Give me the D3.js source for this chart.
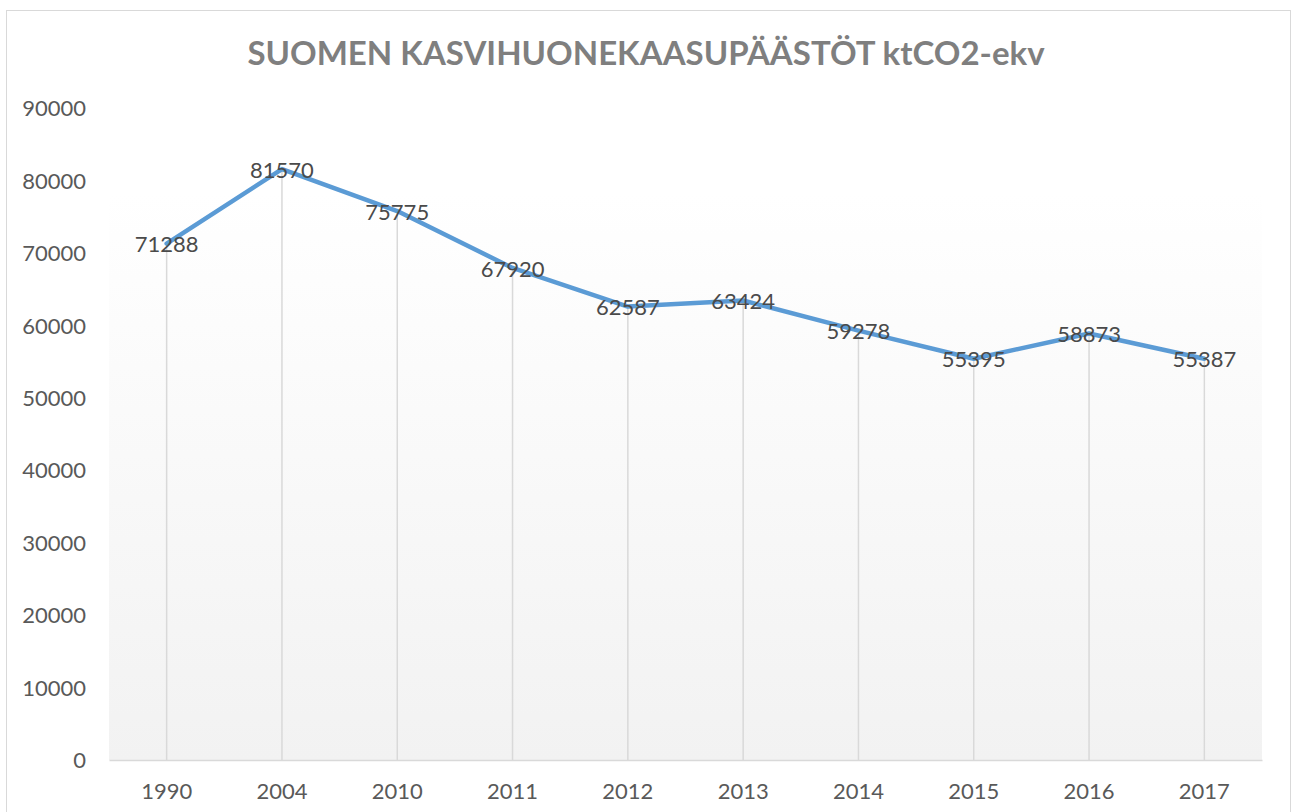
<!DOCTYPE html>
<html><head><meta charset="utf-8">
<script src="https://cdn.jsdelivr.net/npm/d3@7"></script>
<style>
html,body{margin:0;padding:0;background:#fff;}
svg{display:block;}
</style></head>
<body>
<script>
const years = ["1990","2004","2010","2011","2012","2013","2014","2015","2016","2017"];
const emissions = [71288, 81570, 75775, 67920, 62587, 63424, 59278, 55395, 58873, 55387];
const yTicks = [0,10000,20000,30000,40000,50000,60000,70000,80000,90000];
const title = "SUOMEN KASVIHUONEKAASUPÄÄSTÖT ktCO2-ekv";

const W = 1292, H = 812;
const font = "Lato, 'Open Sans', sans-serif";
const svg = d3.select("body").append("svg").attr("width", W).attr("height", H);

const defs = svg.append("defs");
const grad = defs.append("linearGradient").attr("id","pg").attr("x1",0).attr("y1",0).attr("x2",0).attr("y2",1);
grad.append("stop").attr("offset","0%").attr("stop-color","#ffffff");
grad.append("stop").attr("offset","100%").attr("stop-color","#f2f2f2");

// chart border
svg.append("rect").attr("x",6.5).attr("y",10.5).attr("width",1284).attr("height",812)
  .attr("fill","#fff").attr("stroke","#d9d9d9").attr("stroke-width",1);

const plot = {left:109, right:1262, top:108, bottom:760};
const x = d3.scaleBand().domain(years).range([plot.left, plot.right]);
const y = d3.scaleLinear().domain([0, 90000]).range([plot.bottom, plot.top]);

// plot area gradient
svg.append("rect").attr("x",plot.left).attr("y",193).attr("width",plot.right-plot.left)
  .attr("height",plot.bottom-193).attr("fill","url(#pg)");

// title
svg.append("text").attr("x",W/2).attr("y",65).attr("text-anchor","middle")
  .attr("font-family",font).attr("font-weight","bold").attr("font-size",33)
  .attr("fill","#7f7f7f").text(title);

// y axis
const yAxis = d3.axisLeft(y).tickValues(yTicks).tickSize(0).tickPadding(0).tickFormat(d3.format("d"));
const gy = svg.append("g").attr("transform",`translate(86,0)`).call(yAxis);
gy.select(".domain").remove();
gy.selectAll("text").attr("font-family",font).attr("font-size",22).attr("fill","#595959").attr("dy","0.35em");

// x axis
const xAxis = d3.axisBottom(x).tickSize(0).tickPadding(0);
const gx = svg.append("g").attr("transform",`translate(0,${plot.bottom})`).call(xAxis);
gx.select(".domain").attr("stroke","#d9d9d9").attr("stroke-width",1.5);
gx.selectAll("text").attr("font-family",font).attr("font-size",22).attr("fill","#595959").attr("y",31).attr("dy","0.35em");

const cx = d => x(d) + x.bandwidth()/2;

// drop lines
svg.append("g").selectAll("line").data(years).join("line")
  .attr("x1",(d)=>cx(d)).attr("x2",(d)=>cx(d))
  .attr("y1",(d,i)=>y(emissions[i])).attr("y2",plot.bottom)
  .attr("stroke","#d9d9d9").attr("stroke-width",1.5);

// line
const line = d3.line().x((d,i)=>cx(years[i])).y(d=>y(d));
svg.append("path").datum(emissions).attr("d",line).attr("fill","none")
  .attr("stroke","#5b9bd5").attr("stroke-width",4.5).attr("stroke-linejoin","round").attr("stroke-linecap","round");

// data labels
svg.append("g").selectAll("text").data(emissions).join("text")
  .attr("x",(d,i)=>cx(years[i])).attr("y",d=>y(d)+1).attr("dy","0.35em")
  .attr("text-anchor","middle").attr("font-family",font).attr("font-size",22)
  .attr("fill","#4a4a4a").text(d=>d);
</script>
</body></html>
